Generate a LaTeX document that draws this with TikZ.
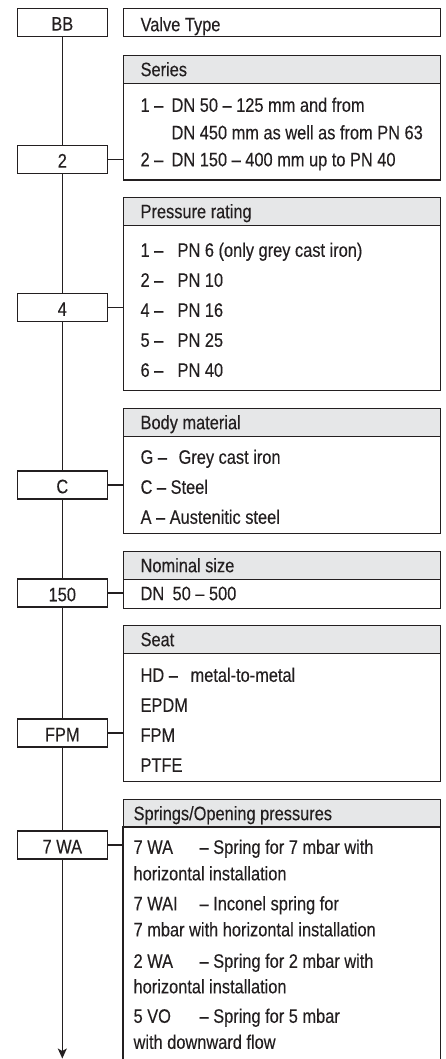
\documentclass[tikz,border=0pt]{standalone}
\usepackage{fontspec}
\setmainfont[FakeStretch=0.84,FakeBold=0.25]{Liberation Sans}
\usetikzlibrary{arrows.meta}
\definecolor{hdr}{HTML}{E6E7E8}
\definecolor{ink}{HTML}{231F20}
\begin{document}
\begin{tikzpicture}[x=1pt,y=-1pt,line width=1.2pt,
  every node/.style={font=\fontsize{19.5}{23}\selectfont,text=ink},
  codebox/.style={draw=ink,minimum width=90pt,minimum height=28pt,inner sep=0pt,text height=16.5pt,text depth=0pt},
  hdrbox/.style={draw=ink,fill=hdr,minimum width=316.5pt,minimum height=28pt,inner sep=0pt,anchor=north west},
  bodybox/.style={draw=ink,minimum width=316.5pt,inner sep=0pt,anchor=north west},
  txt/.style={anchor=base west,inner sep=0pt},
  link/.style={draw=ink}]
\useasboundingbox (0,0) rectangle (446,1059);

% left code boxes
\node[codebox] (lbBB)  at (62.3,22.3)  {BB};
\node[codebox] (lb2)   at (62.3,159.3) {2};
\node[codebox] (lb4)   at (62.3,307.5) {4};
\node[codebox] (lbC)   at (62.3,485)   {C};
\node[codebox] (lb150) at (62.3,593)   {150};
\node[codebox] (lbFPM) at (62.3,733)   {FPM};
\node[codebox] (lbWA)  at (62.3,845)   {7 WA};
\coordinate (endpt) at (62.3,1058.5);

% right boxes
\node[bodybox,minimum height=27.7pt] (rbV) at (123,8.3) {};
\node[hdrbox] (hS) at (123,55) {};
\node[bodybox,minimum height=96.5pt] (rbS) at (123,83) {};
\node[hdrbox] (hP) at (123,197) {};
\node[bodybox,minimum height=165pt] (rbP) at (123,225) {};
\node[hdrbox] (hB) at (123,408) {};
\node[bodybox,minimum height=97pt] (rbB) at (123,436) {};
\node[hdrbox] (hN) at (123,551) {};
\node[bodybox,minimum height=29pt] (rbN) at (123,579) {};
\node[hdrbox] (hT) at (123,625) {};
\node[bodybox,minimum height=128pt] (rbT) at (123,653) {};
\node[hdrbox] (hW) at (123,799) {};
\node[bodybox,draw=none,minimum height=232pt] (rbW) at (123,827) {};
\draw[link] (rbW.south west) -- (rbW.north west) -- (rbW.north east) -- (rbW.south east);

% vertical chain
\draw[link] (lbBB.south) -- (lb2.north);
\draw[link] (lb2.south) -- (lb4.north);
\draw[link] (lb4.south) -- (lbC.north);
\draw[link] (lbC.south) -- (lb150.north);
\draw[link] (lb150.south) -- (lbFPM.north);
\draw[link] (lbFPM.south) -- (lbWA.north);
\draw[link,-{Stealth[length=10pt,width=9pt,inset=2.5pt]}] (lbWA.south) -- (endpt);

% horizontal links
\draw[link] (lb2.east) -- (lb2.east -| rbS.west);
\draw[link] (lb4.east) -- (lb4.east -| rbP.west);
\draw[link] (lbC.east) -- (lbC.east -| rbB.west);
\draw[link] (lb150.east) -- (lb150.east -| rbN.west);
\draw[link] (lbFPM.east) -- (lbFPM.east -| rbT.west);
\draw[link] (lbWA.east) -- (lbWA.east -| rbW.west);

% texts
\node[txt] (tV) at (140,31.2) {Valve Type};

\node[txt] (tS) at (140,76.2) {Series};
\node[txt] (tS1a) at (140,111.8) {1 –};
\node[txt] (tS1b) at (171,111.8) {DN 50 – 125 mm and from};
\node[txt] (tS1c) at (171,139.3) {DN 450 mm as well as from PN 63};
\node[txt] (tS2a) at (140,166.3) {2 –};
\node[txt] (tS2b) at (171,166.3) {DN 150 – 400 mm up to PN 40};

\node[txt] (tP) at (140,218.2) {Pressure rating};
\node[txt] (tP1a) at (140,256.8) {1 –};
\node[txt] (tP1b) at (177,256.8) {PN 6 (only grey cast iron)};
\node[txt] (tP2a) at (140,286.8) {2 –};
\node[txt] (tP2b) at (177,286.8) {PN 10};
\node[txt] (tP4a) at (140,316.8) {4 –};
\node[txt] (tP4b) at (177,316.8) {PN 16};
\node[txt] (tP5a) at (140,346.8) {5 –};
\node[txt] (tP5b) at (177,346.8) {PN 25};
\node[txt] (tP6a) at (140,376.8) {6 –};
\node[txt] (tP6b) at (177,376.8) {PN 40};

\node[txt] (tB) at (140,429.2) {Body material};
\node[txt] (tBGa) at (140,463.8) {G –};
\node[txt] (tBGb) at (178,463.8) {Grey cast iron};
\node[txt] (tBC) at (140,493.8) {C – Steel};
\node[txt] (tBA) at (140,523.8) {A – Austenitic steel};

\node[txt] (tN) at (140,572.2) {Nominal size};
\node[txt] (tNa) at (140,600.2) {DN};
\node[txt] (tNb) at (172,600.2) {50 – 500};

\node[txt] (tT) at (140,646.2) {Seat};
\node[txt] (tTHa) at (140,681.8) {HD –};
\node[txt] (tTHb) at (190,681.8) {metal-to-metal};
\node[txt] (tTE) at (140,711.8) {EPDM};
\node[txt] (tTF) at (140,741.8) {FPM};
\node[txt] (tTP) at (140,771.8) {PTFE};

\node[txt] (tW) at (133,820.2) {Springs/Opening pressures};
\node[txt] (tW1a) at (133,853.8) {7 WA};
\node[txt] (tW1b) at (199,853.8) {– Spring for 7 mbar with};
\node[txt] (tW1c) at (133,880.3) {horizontal installation};
\node[txt] (tW2a) at (133,910.3) {7 WAI};
\node[txt] (tW2b) at (199,910.3) {– Inconel spring for};
\node[txt] (tW2c) at (133,936.3) {7 mbar with horizontal installation};
\node[txt] (tW3a) at (133,967.8) {2 WA};
\node[txt] (tW3b) at (199,967.8) {– Spring for 2 mbar with};
\node[txt] (tW3c) at (133,993.3) {horizontal installation};
\node[txt] (tW4a) at (133,1022.8) {5 VO};
\node[txt] (tW4b) at (199,1022.8) {– Spring for 5 mbar};
\node[txt] (tW4c) at (133,1048.8) {with downward flow};
\end{tikzpicture}
\end{document}
